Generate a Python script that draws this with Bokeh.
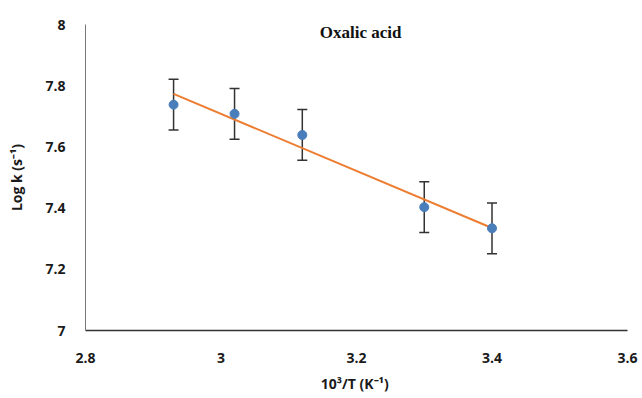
import numpy as np
from bokeh.plotting import figure
from bokeh.models import ColumnDataSource, Whisker, TeeHead, Label, Range1d, FixedTicker
from bokeh.embed import file_html
from bokeh.resources import INLINE

inv_T = [2.93, 3.02, 3.12, 3.30, 3.40]
log_k = [7.738, 7.708, 7.639, 7.403, 7.334]
err = [0.083, 0.083, 0.083, 0.083, 0.083]
x_ticks = [2.8, 3.0, 3.2, 3.4, 3.6]
y_ticks = [7.0, 7.2, 7.4, 7.6, 7.8, 8.0]
title_text = "Oxalic acid"

slope, intercept = np.polyfit(inv_T, log_k, 1)
fit_x = [min(inv_T), max(inv_T)]
fit_y = [slope * v + intercept for v in fit_x]

src = ColumnDataSource(dict(
    x=inv_T, y=log_k,
    upper=[a + b for a, b in zip(log_k, err)],
    lower=[a - b for a, b in zip(log_k, err)],
))

p = figure(width=642, height=398, output_backend="svg", toolbar_location=None,
           x_range=Range1d(2.8, 3.6), y_range=Range1d(7.0, 8.0),
           min_border_left=85, min_border_right=15, min_border_top=24, min_border_bottom=68)
p.outline_line_color = None
p.xgrid.grid_line_color = None
p.ygrid.grid_line_color = None

font = "Open Sans"
for ax in (p.xaxis[0], p.yaxis[0]):
    ax.major_tick_line_color = None
    ax.minor_tick_line_color = None
    ax.major_label_text_font = font
    ax.major_label_text_font_style = "bold"
    ax.major_label_text_font_size = "14px"
    ax.major_label_text_color = "#1a1a1a"
    ax.axis_label_text_font = font
    ax.axis_label_text_font_style = "bold"
    ax.axis_label_text_font_size = "14px"
    ax.axis_label_text_color = "#1a1a1a"

p.xaxis.ticker = FixedTicker(ticks=x_ticks)
p.yaxis.ticker = FixedTicker(ticks=y_ticks)
p.xaxis.major_label_overrides = {2.8: "2.8", 3.0: "3", 3.2: "3.2", 3.4: "3.4", 3.6: "3.6"}
p.yaxis.major_label_overrides = {7.0: "7", 7.2: "7.2", 7.4: "7.4", 7.6: "7.6", 7.8: "7.8", 8.0: "8"}
p.xaxis.axis_line_color = "#333333"
p.yaxis.axis_line_color = "#777777"
p.xaxis.axis_line_width = 1.5
p.xaxis.major_label_standoff = 16
p.yaxis.major_label_standoff = 14
p.xaxis.axis_label = "10³/T  (K⁻¹)"
p.yaxis.axis_label = "Log k (s⁻¹)"
p.xaxis.axis_label_standoff = 8
p.yaxis.axis_label_standoff = 16

p.line(fit_x, fit_y, line_color="#ED7D31", line_width=2)

w = Whisker(source=src, base="x", upper="upper", lower="lower",
            line_color="#333333", line_width=1.5,
            upper_head=TeeHead(size=10, line_color="#333333", line_width=1.5),
            lower_head=TeeHead(size=10, line_color="#333333", line_width=1.5))
p.add_layout(w)

p.scatter("x", "y", source=src, size=9, fill_color="#4A7EBB", line_color="#4A7EBB")

p.add_layout(Label(x=3.206, y=7.975, text=title_text, text_font="Liberation Serif",
                   text_font_style="bold", text_font_size="17px", text_align="center",
                   text_baseline="middle", text_color="#111111"))

open("out.html", "w").write(file_html(p, INLINE))
